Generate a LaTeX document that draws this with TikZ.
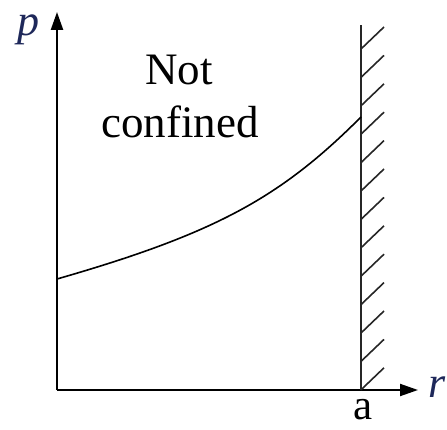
\documentclass[tikz,border=0pt]{standalone}
\usepackage{fontspec}
\setmainfont{Liberation Serif}
\usetikzlibrary{arrows.meta}
\definecolor{labblue}{RGB}{30,40,90}
\begin{document}
\begin{tikzpicture}[x=1pt,y=1pt,
  axisline/.style={line width=2.4pt,-{Triangle[length=18pt,width=12pt]}},
  wallline/.style={line width=2pt,draw=black!85},
  hatchline/.style={line width=1.6pt,draw=black!85},
  curveline/.style={line width=1.6pt},
  bigtext/.style={font=\fontsize{45}{54}\selectfont,inner sep=0pt},
  axislabel/.style={font=\fontsize{44}{52}\selectfont\itshape,text=labblue,inner sep=0pt}]
\useasboundingbox (0,0) rectangle (447,429);
\coordinate (O) at (57,39);
\coordinate (ytip) at (57,417);
\coordinate (xtip) at (418,39);
\coordinate (wallbot) at (361,39);
\coordinate (walltop) at (361,404);
\coordinate (cstart) at (57,150);
\coordinate (cend) at (361,312);
% axes
\draw[axisline] (O) -- (ytip);
\draw[axisline,line width=2pt] (O) -- (xtip);
% wall
\draw[wallline] (wallbot) -- (walltop);
\foreach \i in {0,...,12}{
  \pgfmathsetmacro{\yb}{380-28.4*\i}
  \pgfmathsetmacro{\yt}{\yb+22}
  \draw[hatchline] (361,\yb) -- (384,\yt);
}
% curve
\draw[curveline] (cstart) .. controls (217,196) and (281,232) .. (cend);
% labels
\node[axislabel,anchor=base west] (plab) at (17,393) {p};
\node[axislabel,anchor=base west] (rlab) at (428,32) {r};
\node[bigtext,font=\fontsize{43}{50}\selectfont,anchor=base] (alab) at (363,10) {a};
\node[bigtext,anchor=base] (nottxt) at (179,344) {Not};
\node[bigtext,anchor=base] (conftxt) at (180,291) {confined};
\end{tikzpicture}
\end{document}
